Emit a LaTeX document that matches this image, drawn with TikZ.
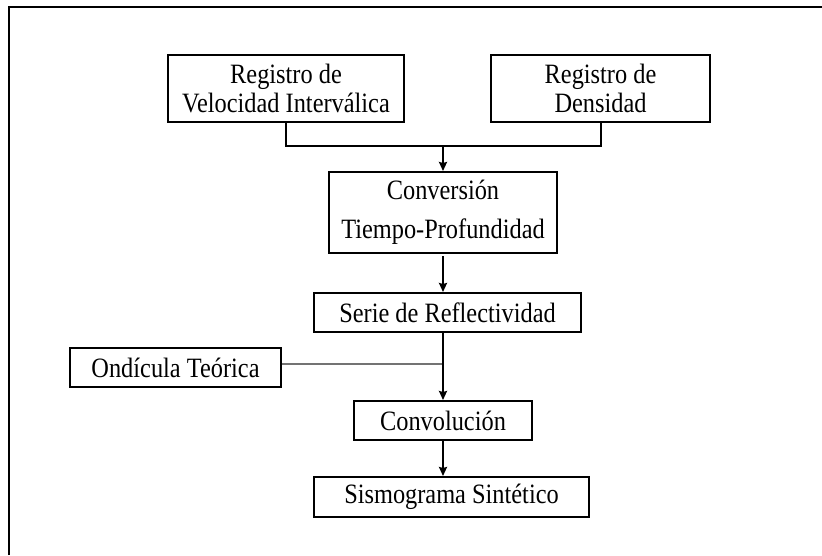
\documentclass[tikz,border=0pt]{standalone}
\usepackage{fontspec}
\setmainfont{Liberation Serif}[FakeStretch=0.87]
\usepackage{tikz}
\usetikzlibrary{arrows.meta}
\tikzset{
>={Stealth[length=9pt, width=8pt, inset=1pt]},
  bloque/.style={
    rectangle,
    draw=black, line width=2pt,
    inner sep=0pt,
    font=\fontsize{28}{29}\selectfont,
    align=center},
  flecha/.style={draw, line width=2pt, ->, shorten <=2pt},
  linea/.style={draw, line width=2pt},
}
\begin{document}
\begin{tikzpicture}[x=1pt, y=-1pt]
     \useasboundingbox (0,0) rectangle (822,555);
     \draw[line width=2.5pt] (9,555) -- (9,7) -- (822,7);
     \node[bloque, minimum width=236pt, minimum height=67pt] (RegistroVelocidad) at (286,88.5) {Registro de\\Velocidad Interválica};
     \node[bloque, minimum width=219pt, minimum height=67pt] (RegistroDensidad)  at (600.5,88.5) {Registro de\\Densidad};
     \node[bloque, minimum width=228pt, minimum height=81pt] (Conversion)        at (443,212.5) {Conversión\\[10pt]Tiempo-Profundidad};
     \node[bloque, minimum width=267pt, minimum height=39pt] (Reflectividad)     at (447.5,312.5) {Serie de Reflectividad};
     \node[bloque, minimum width=211pt, minimum height=39pt] (Ondicula)          at (175.5,367.5) {Ondícula Teórica};
     \node[bloque, minimum width=178pt, minimum height=39pt] (Convolucion)       at (443,420.5) {Convolución};
     \node[bloque, minimum width=275pt, minimum height=40pt] (Sismograma)        at (451.5,497) {Sismograma Sintético};
     \coordinate (Union) at (443,146);
     \path[linea] (RegistroVelocidad.south) |- (Union) -| (RegistroDensidad.south);
     \path[flecha, shorten <=0pt] (Union) -- (Conversion.north);
     \path[flecha] (Conversion.south) -- (Conversion.south |- Reflectividad.north);
     \path[linea, draw=black!55] ([yshift=4pt]Ondicula.east) -- ([yshift=4pt]Ondicula.east -| Convolucion.north);
     \path[flecha, shorten <=0pt] (Convolucion.north |- Reflectividad.south) -- (Convolucion.north);
     \path[flecha, shorten <=0pt] (Convolucion.south) -- (Convolucion.south |- Sismograma.north);
\end{tikzpicture}
\end{document}
